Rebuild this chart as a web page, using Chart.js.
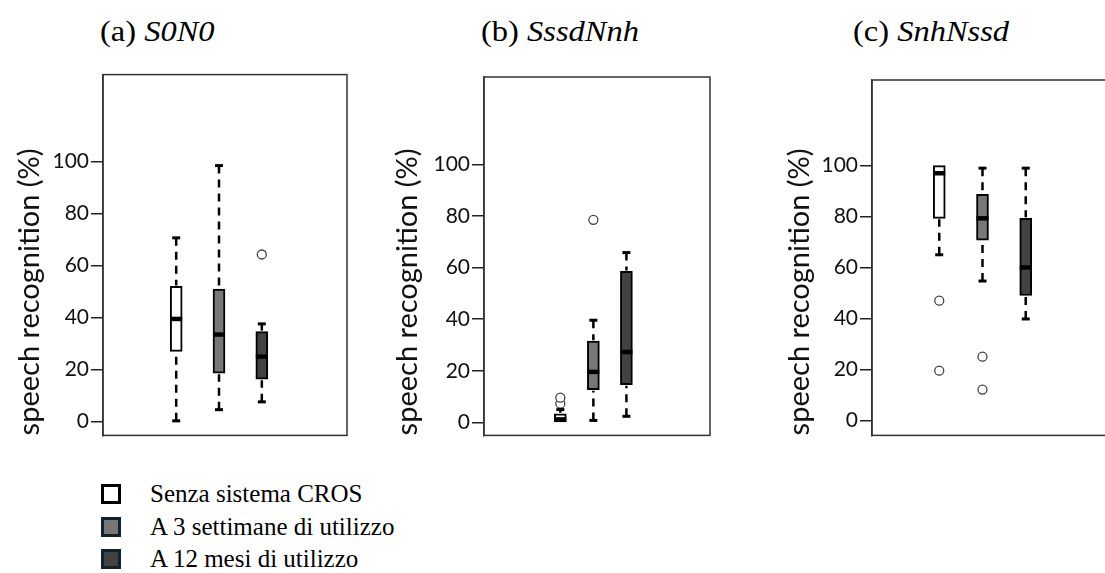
<!DOCTYPE html>
<html>
<head>
<meta charset="utf-8">
<script src="https://cdn.jsdelivr.net/npm/chart.js@4.4.1/dist/chart.umd.min.js"></script>
<style>
  html, body { margin: 0; padding: 0; background: #fff; overflow: hidden; }
  body { width: 1105px; height: 573px; position: relative; }
  .panel { position: absolute; }
  .title { position: absolute; font-family: "Liberation Serif", serif; font-size: 29px; line-height: 30px; color: #000; white-space: nowrap; transform: scaleX(1.12); transform-origin: left center; }
  .legend { position: absolute; left: 101px; top: 478px; font-family: "Liberation Serif", serif; font-size: 25px; color: #000; }
  .legend div { height: 32.5px; display: flex; align-items: center; }
  .legend span.sq { display: inline-block; width: 14px; height: 14px; border: 3px solid #000; margin-right: 29px; }
</style>
</head>
<body>
<div class="title" style="left:100px; top:16px;">(a) <i>S0N0</i></div>
<div class="title" style="left:481px; top:16px;">(b) <i>SssdNnh</i></div>
<div class="title" style="left:853px; top:16px;">(c) <i>SnhNssd</i></div>

<div class="panel" style="left:0px; top:60px;"><canvas id="chartA" width="360" height="390"></canvas></div>
<div class="panel" style="left:370px; top:60px;"><canvas id="chartB" width="350" height="390"></canvas></div>
<div class="panel" style="left:740px; top:60px;"><canvas id="chartC" width="400" height="390"></canvas></div>

<div class="legend" id="legend"></div>

<script>
// gruppi (uguali nei tre pannelli)
const groups = ["Senza sistema CROS", "A 3 settimane di utilizzo", "A 12 mesi di utilizzo"];
const groupColors = ["#ffffff", "#777777", "#424242"];
const legendBorders = ["#000000", "#0e2230", "#0e2230"];
const yTicks = [0, 20, 40, 60, 80, 100];

// (a) S0N0
const s0n0Min = [0.3, 4.6, 7.6];
const s0n0Q1 = [27, 18.6, 16.3];
const s0n0Median = [39.5, 33.5, 25];
const s0n0Q3 = [52, 51, 34.6];
const s0n0Max = [70.7, 98.5, 37.6];
const s0n0Outliers = [[], [], [64.3]];

// (b) SssdNnh
const sssdMin = [0.2, 0.8, 2.4];
const sssdQ1 = [0.2, 12.7, 14.6];
const sssdMedian = [1.2, 19.6, 27.3];
const sssdQ3 = [3.4, 31.5, 58.5];
const sssdMax = [5, 39.6, 65.8];
const sssdOutliers = [[7.3, 9.6], [78.5], []];

// (c) SnhNssd
const snhMin = [65, 54.7, 39.8];
const snhQ1 = [79.3, 70.7, 49];
const snhMedian = [97, 79.3, 60];
const snhQ3 = [100, 88.7, 79.3];
const snhMax = [100, 99, 99];
const snhOutliers = [[47, 19.5], [25, 12.1], []];

// plugin: baffi tratteggiati, mediana e cornice
const boxExtras = {
    id: "boxExtras",
    afterDatasetsDraw(chart) {
        const ctx = chart.ctx;
        const xs = chart.scales.x;
        const ys = chart.scales.y;
        const ds = chart.data.datasets[0];
        const st = ds.stats;
        const half = 6;
        ctx.save();
        ds.data.forEach((d, i) => {
            const x = xs.getPixelForValue(d.x);
            const q1 = ys.getPixelForValue(d.y[0]);
            const q3 = ys.getPixelForValue(d.y[1]);
            const lo = ys.getPixelForValue(st.min[i]);
            const hi = ys.getPixelForValue(st.max[i]);
            ctx.strokeStyle = "#000";
            ctx.lineWidth = 2.5;
            ctx.setLineDash([8, 6]);
            if (hi < q3 - 1) {
                ctx.beginPath(); ctx.moveTo(x, hi); ctx.lineTo(x, q3 - 1); ctx.stroke();
            }
            if (lo > q1 + 1) {
                ctx.beginPath(); ctx.moveTo(x, lo); ctx.lineTo(x, q1 + 1); ctx.stroke();
            }
            ctx.setLineDash([]);
            ctx.lineWidth = 3;
            if (hi < q3 - 1) {
                ctx.beginPath(); ctx.moveTo(x - 4, hi); ctx.lineTo(x + 4, hi); ctx.stroke();
            }
            if (lo > q1 + 1) {
                ctx.beginPath(); ctx.moveTo(x - 4, lo); ctx.lineTo(x + 4, lo); ctx.stroke();
            }
            // mediana
            const m = ys.getPixelForValue(st.median[i]);
            ctx.lineWidth = 4.5;
            ctx.beginPath(); ctx.moveTo(x - half, m); ctx.lineTo(x + half, m); ctx.stroke();
        });
        // cornice
        const a = chart.chartArea;
        ctx.strokeStyle = "#333";
        ctx.lineWidth = 1.5;
        ctx.strokeRect(a.left, a.top, a.right - a.left, a.bottom - a.top);
        ctx.restore();
    }
};

function makePanel(id, mins, q1s, medians, q3s, maxs, outliers, cfg) {
    const positions = [1, 2, 3];
    const boxData = positions.map((p, i) => ({ x: p, y: [q1s[i], q3s[i]] }));
    const outData = [];
    outliers.forEach((list, i) => list.forEach((v) => outData.push({ x: positions[i], y: v })));

    return new Chart(document.getElementById(id), {
        data: {
            datasets: [
                {
                    type: "bar",
                    data: boxData,
                    stats: { min: mins, median: medians, max: maxs },
                    backgroundColor: groupColors,
                    borderColor: "#000",
                    borderWidth: 2,
                    borderSkipped: false,
                    barThickness: 12,
                },
                {
                    type: "scatter",
                    data: outData,
                    pointRadius: 4.5,
                    pointBackgroundColor: "#fff",
                    pointBorderColor: "#444",
                    pointBorderWidth: 1.3,
                },
            ],
        },
        options: {
            responsive: false,
            animation: false,
            events: [],
            layout: { padding: cfg.padding },
            plugins: { legend: { display: false }, tooltip: { enabled: false } },
            scales: {
                x: { type: "linear", min: cfg.xMin, max: cfg.xMax, display: false },
                y: {
                    min: cfg.yMin,
                    max: cfg.yMax,
                    afterBuildTicks: (s) => { s.ticks = yTicks.map((v) => ({ value: v })); },
                    afterFit: (s) => { s.width = cfg.axisWidth; },
                    ticks: { color: "#111", padding: 2, font: { family: "Lato", size: 21 } },
                    grid: { drawOnChartArea: false, drawTicks: true, tickLength: 12, color: "#222", lineWidth: 1.5 },
                    border: { display: true, color: "#333", width: 1.5 },
                    title: {
                        display: true,
                        text: "speech recognition (%)",
                        align: "start",
                        color: "#111",
                        font: { family: "Lato", size: 29 },
                        padding: { top: cfg.titlePad, bottom: 0 },
                    },
                },
            },
        },
        plugins: [boxExtras],
    });
}

makePanel("chartA", s0n0Min, s0n0Q1, s0n0Median, s0n0Q3, s0n0Max, s0n0Outliers,
    { padding: { left: 0, right: 13, top: 13, bottom: 12 }, axisWidth: 103, xMin: -0.14, xMax: 4.42, yMin: -5.3, yMax: 133.5, titlePad: 12 });
makePanel("chartB", sssdMin, sssdQ1, sssdMedian, sssdQ3, sssdMax, sssdOutliers,
    { padding: { left: 0, right: 10, top: 17, bottom: 13 }, axisWidth: 114, xMin: -0.17, xMax: 4.39, yMin: -5, yMax: 133.8, titlePad: 20 });
makePanel("chartC", snhMin, snhQ1, snhMedian, snhQ3, snhMax, snhOutliers,
    { padding: { left: 0, right: 28, top: 20, bottom: 13 }, axisWidth: 132, xMin: 0, xMax: 4.44, yMin: -5.9, yMax: 133.6, titlePad: 42 });

// legenda
const legend = document.getElementById("legend");
groups.forEach((g, i) => {
    const row = document.createElement("div");
    const sq = document.createElement("span");
    sq.className = "sq";
    sq.style.background = groupColors[i];
    sq.style.borderColor = legendBorders[i];
    row.appendChild(sq);
    row.appendChild(document.createTextNode(g));
    legend.appendChild(row);
});
</script>
</body>
</html>
